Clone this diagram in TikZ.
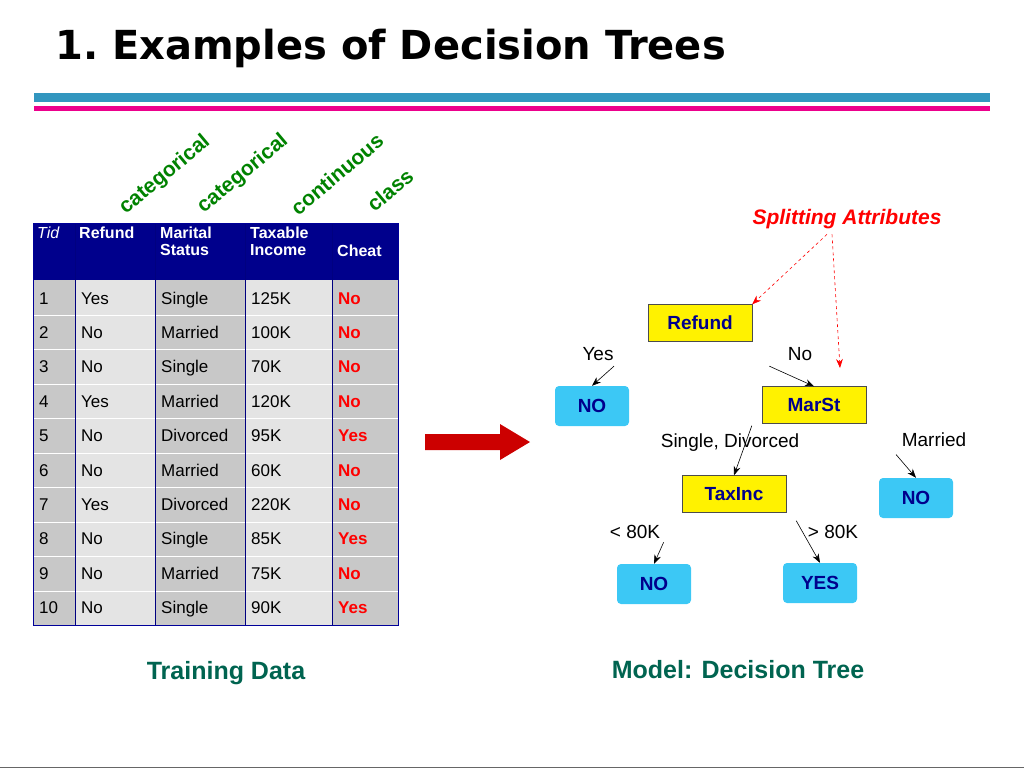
\documentclass[tikz,border=0pt]{standalone}
\usepackage{fontspec}
\setmainfont{Liberation Sans}
\newfontfamily\titlefont{DejaVu Sans}
\usetikzlibrary{arrows.meta}
\definecolor{hdrblue}{RGB}{0,0,140}
\definecolor{cellgray}{RGB}{200,200,200}
\definecolor{celllight}{RGB}{228,228,228}
\definecolor{dgreen}{RGB}{0,100,80}
\definecolor{catgreen}{RGB}{0,130,0}
\definecolor{boxcyan}{RGB}{60,200,245}
\tikzset{
  cell/.style={anchor=base west,inner sep=1pt,font=\fontsize{17}{17}\selectfont},
  cls/.style={cell,text=red,font=\fontsize{17}{17}\selectfont\bfseries},
  hdr/.style={anchor=north west,text=white,align=left,inner sep=2pt,font=\fontsize{16}{17}\selectfont\bfseries},
  attr/.style={draw=black!70,fill=yellow,minimum width=104pt,minimum height=37pt,text=hdrblue,font=\fontsize{19}{19}\selectfont\bfseries},
  leaf/.style={fill=boxcyan,rounded corners=4pt,minimum width=74pt,minimum height=40pt,text=hdrblue,font=\fontsize{19}{19}\selectfont\bfseries},
  elabel/.style={font=\fontsize{19}{19}\selectfont},
  kind/.style={rotate=40,inner sep=0pt,text=catgreen,font=\fontsize{21}{21}\selectfont\bfseries},
  branch/.style={-{Stealth[length=9pt]},semithick}
}
\begin{document}
\begin{tikzpicture}[x=1pt,y=-1pt]
\useasboundingbox (0,0) rectangle (1024,768);
% title and rules
\node[anchor=west,inner sep=0pt,font=\titlefont\fontsize{40}{40}\selectfont\bfseries] (title) at (55,48) {1.~Examples of Decision Trees};
\fill[cyan!75!black] (34,93) rectangle (990,102);
\fill[magenta] (34,106) rectangle (990,111);
% attribute kinds
\node[kind] (k1) at (165,175) {categorical};
\node[kind] (k2) at (243,174) {categorical};
\node[kind] (k3) at (337,174) {continuous};
\node[kind] (k4) at (390,190) {class};
% table
\fill[hdrblue] (33,223) rectangle (398,280);
\fill[cellgray] (33,280) rectangle (75,625);
\fill[celllight] (75,280) rectangle (155,625);
\fill[cellgray] (155,280) rectangle (245,625);
\fill[celllight] (245,280) rectangle (332,625);
\fill[cellgray] (332,280) rectangle (398,625);
\foreach \y in {315,349,384,418,453,487,522,556,591} \draw[white,thin] (33,\y) -- (398,\y);
\foreach \x in {75,155,245,332} \draw[blue!50!black,thin] (\x,223) -- (\x,625);
\draw[blue!60!black,thin] (33,223) rectangle (398,625);
\node[hdr,font=\fontsize{16}{17}\selectfont\itshape] (hTid) at (35,225) {Tid};
\node[hdr] (hRef) at (77,225) {Refund};
\node[hdr] (hMar) at (158,225) {Marital\\Status};
\node[hdr] (hTax) at (248,225) {Taxable\\Income};
\node[hdr] (hChe) at (335,243) {Cheat};
\foreach \t/\r/\m/\i/\c [count=\n] in {1/Yes/Single/125K/No,2/No/Married/100K/No,3/No/Single/70K/No,4/Yes/Married/120K/No,5/No/Divorced/95K/Yes,6/No/Married/60K/No,7/Yes/Divorced/220K/No,8/No/Single/85K/Yes,9/No/Married/75K/No,10/No/Single/90K/Yes}{
  \node[cell] (t\n) at (38,{304+(\n-1)*34.4}) {\t};
  \node[cell] (r\n) at (80,{304+(\n-1)*34.4}) {\r};
  \node[cell] (m\n) at (160,{304+(\n-1)*34.4}) {\m};
  \node[cell] (i\n) at (250,{304+(\n-1)*34.4}) {\i};
  \node[cls] (c\n) at (337,{304+(\n-1)*34.4}) {\c};
}
\node[text=dgreen,font=\fontsize{25}{25}\selectfont\bfseries] (train) at (226,673) {Training Data};
% arrow
\fill[red!80!black] (425,434) -- (500,434) -- (500,424) -- (530,442) -- (500,460) -- (500,450) -- (425,450) -- cycle;
% tree
\node[attr] (refund) at (700,323) {Refund};
\node[leaf] (no1) at (592,406) {NO};
\node[attr] (marst) at (814,405) {MarSt};
\node[attr] (taxinc) at (734,494) {TaxInc};
\node[leaf] (no2) at (916,498) {NO};
\node[leaf] (no3) at (654,584) {NO};
\node[leaf] (yes) at (820,583) {YES};
\node[elabel] (lyes) at (598,354) {Yes};
\node[elabel] (lno) at (800,354) {No};
\node[elabel] (lsd) at (730,443) {Single, Divorced};
\node[elabel] (lmar) at (934,440) {Married};
\node[elabel] (llt) at (635,532) {< 80K};
\node[elabel] (lgt) at (833,532) {> 80K};
\draw[branch] (lyes.south) ++(16,2) coordinate (a1) (a1) -- (no1.north);
\draw[branch] (lno.south west) ++(-15,2) coordinate (a2) (a2) -- (marst.north);
\draw[branch] (marst.south west) ++(-10,2) coordinate (a3) (a3) -- (taxinc.north);
\draw[branch] (lmar.south) ++(-38,4) coordinate (a4) (a4) -- (no2.north);
\draw[branch] (llt.south east) ++(0,0) coordinate (a5) (a5) -- (no3.north);
\draw[branch] (taxinc.south east) ++(10,8) coordinate (a6) (a6) -- (yes.north);
\node[text=red,font=\fontsize{21}{21}\selectfont\bfseries\itshape] (split) at (847,219) {Splitting Attributes};
\draw[red,semithick,dashed,-{Stealth[length=9pt]}] (split.south) ++(-20,2) coordinate (s1) (s1) -- (refund.north east);
\draw[red,semithick,dashed,-{Stealth[length=9pt]}] (split.south) ++(-15,2) coordinate (s2) (s2) -- (840,368);
\node[text=dgreen,font=\fontsize{25}{25}\selectfont\bfseries] (model) at (738,670) {Model: Decision Tree};
\draw[black!60] (0,767) -- (1024,767);
\end{tikzpicture}
\end{document}
